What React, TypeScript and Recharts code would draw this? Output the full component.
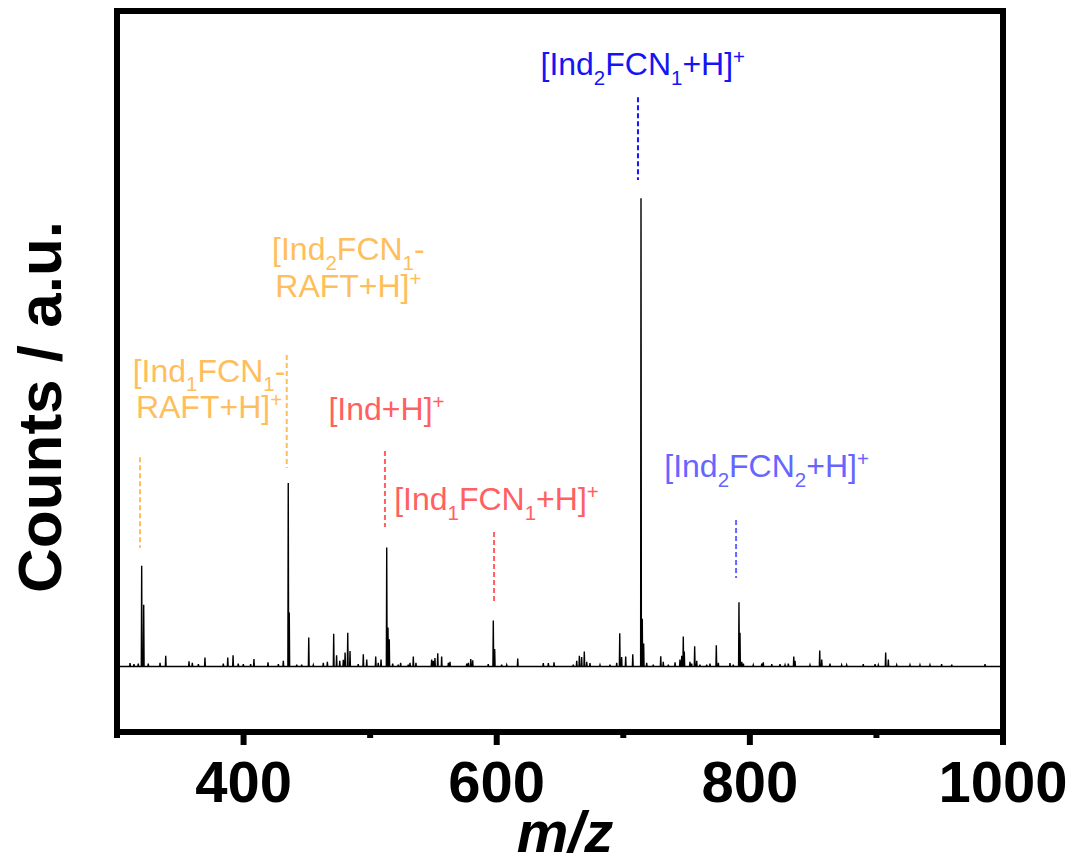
import React from "react";
import {
  LineChart,
  Line,
  XAxis,
  YAxis,
  ReferenceArea,
  ReferenceLine,
  ReferenceDot,
} from "recharts";

const FONT = "'Liberation Sans', Arial, Helvetica, sans-serif";

// tall peaks (m/z, counts relative to the base peak)
const peakMz = [
  319.5, 321.1, 338.5, 369.5, 387.5, 391.7, 408.2, 435.3, 436.1, 451.5, 471.2,
  482.3, 494.6, 497.3, 504.4, 513.1, 514.1, 515.1, 534.1, 553.4, 556.5, 579.5,
  597.3, 598.4, 616.6, 665.3, 669.2, 697.2, 701.9, 707.5, 714.0, 715.0, 716.1,
  729.6, 747.4, 748.2, 756.4, 773.5, 791.4, 792.2, 810.6, 834.7, 855.2, 907.3,
  959.5,
];
const peakCounts = [
  21.5, 13.2, 2.3, 1.9, 1.9, 2.4, 1.6, 39.2, 11.5, 6.2, 7.0,
  7.2, 2.6, 1.5, 2.1, 25.4, 8.3, 5.8, 2.1, 2.8, 2.1, 1.6,
  9.8, 3.7, 1.7, 2.3, 3.2, 7.1, 2.1, 2.6, 100, 10.2, 4.9,
  2.2, 6.4, 3.2, 4.3, 4.5, 13.7, 7.2, 0.9, 2.1, 3.4, 3.0,
  0.4,
];

// small peaks along the baseline
const minorMz = [
  310.3, 313.4, 316.8, 324.7, 334.0, 356.9, 359.5, 364.3, 384.0, 395.8, 399.8,
  405.6, 419.3, 427.5, 431.4, 442.0, 445.9, 455.1, 463.0, 466.2, 473.5, 476.0,
  478.8, 480.2, 484.1, 490.6, 506.4, 508.6, 517.8, 522.2, 524.1, 530.1, 531.5,
  536.2, 548.6, 549.9, 551.2, 561.8, 563.1, 576.3, 577.6, 581.0, 593.3, 603.9,
  607.9, 636.8, 640.8, 645.3, 660.5, 663.2, 667.1, 671.1, 673.7, 681.6, 689.5,
  694.8, 698.7, 718.5, 723.7, 731.6, 735.6, 740.9, 744.8, 746.2, 752.7, 754.0,
  758.0, 760.6, 765.9, 768.5, 775.1, 784.3, 786.9, 793.6, 794.9, 802.7, 809.4,
  817.3, 823.8, 827.8, 830.4, 835.7, 847.5, 856.8, 863.3, 872.5, 876.5, 889.6,
  898.9, 901.5, 909.4, 916.0, 926.5, 934.4, 942.3, 951.5, 985.8,
];
const minorCounts = [
  0.7, 0.5, 0.6, 0.6, 0.8, 1.1, 0.8, 0.5, 0.6, 0.6, 0.5,
  0.5, 0.9, 0.5, 1.2, 0.4, 0.4, 0.3, 0.8, 1.0, 2.4, 1.2,
  1.4, 3.0, 3.3, 0.5, 0.8, 1.5, 0.6, 0.4, 0.8, 0.4, 0.8,
  0.8, 1.5, 1.2, 1.8, 0.8, 1.0, 0.6, 0.8, 1.3, 0.5, 0.4,
  0.3, 0.7, 0.7, 0.9, 0.4, 1.2, 2.0, 1.0, 0.7, 0.3, 0.4,
  0.8, 2.0, 0.8, 0.4, 1.0, 0.4, 0.9, 1.5, 2.3, 1.0, 0.6,
  1.2, 0.4, 0.4, 0.6, 0.8, 0.7, 0.4, 1.0, 0.6, 0.3, 0.6,
  0.5, 0.5, 0.3, 0.6, 1.2, 0.3, 1.5, 0.6, 0.3, 0.3, 0.5,
  0.5, 0.3, 1.5, 0.3, 0.3, 0.3, 0.3, 0.5, 0.5,
];

const mzTicks = [300, 400, 500, 600, 700, 800, 900, 1000];

const ORANGE = "#FFBE5C";
const RED = "#FF6060";
const BLUE = "#1414F5";
const LIGHT_BLUE = "#6666FF";

type Part = [string, "n" | "sub" | "sup"];

// peak assignments, one entry per text line
const labelText: Part[][] = [
  [["[Ind", "n"], ["2", "sub"], ["FCN", "n"], ["1", "sub"], ["+H]", "n"], ["+", "sup"]],
  [["[Ind", "n"], ["2", "sub"], ["FCN", "n"], ["1", "sub"], ["-", "n"]],
  [["RAFT+H]", "n"], ["+", "sup"]],
  [["[Ind", "n"], ["1", "sub"], ["FCN", "n"], ["1", "sub"], ["-", "n"]],
  [["RAFT+H]", "n"], ["+", "sup"]],
  [["[Ind+H]", "n"], ["+", "sup"]],
  [["[Ind", "n"], ["1", "sub"], ["FCN", "n"], ["1", "sub"], ["+H]", "n"], ["+", "sup"]],
  [["[Ind", "n"], ["2", "sub"], ["FCN", "n"], ["2", "sub"], ["+H]", "n"], ["+", "sup"]],
];
const labelMz = [715.4, 482.8, 482.8, 372.7, 372.7, 512.9, 599.8, 813.2];
const labelY = [126.3, 86.8, 79.0, 60.8, 53.1, 52.6, 33.4, 40.4];
const labelColor = [BLUE, ORANGE, ORANGE, ORANGE, ORANGE, RED, RED, LIGHT_BLUE];

// dashed markers above the assigned peaks
const markerMz = [711.6, 434.1, 318.2, 511.7, 597.9, 789.1];
const markerTop = [121.6, 66.5, 44.7, 46.0, 28.7, 31.3];
const markerBottom = [103.9, 42.4, 25.3, 29.8, 13.8, 18.9];
const markerColor = [BLUE, ORANGE, ORANGE, RED, RED, LIGHT_BLUE];

const sticks = peakMz
  .map((mz, i) => ({ mz, c: peakCounts[i] }))
  .concat(minorMz.map((mz, i) => ({ mz, c: minorCounts[i] })))
  .sort((a, b) => a.mz - b.mz);

const spectrum: { mz: number; c: number }[] = [{ mz: 302, c: 0 }];
sticks.forEach((s) => {
  spectrum.push({ mz: s.mz - 0.3, c: 0 }, { mz: s.mz, c: s.c }, { mz: s.mz + 0.3, c: 0 });
});
spectrum.push({ mz: 998, c: 0 });

function RichText({ x, y, parts, color }: { x: number; y: number; parts: Part[]; color: string }) {
  const size = 32;
  let shift = 0;
  return (
    <text x={x} y={y} textAnchor="middle" fill={color} fontSize={size} fontFamily={FONT}>
      {parts.map(([t, k], i) => {
        const target = k === "sub" ? 0.3 * size : k === "sup" ? -0.34 * size : 0;
        const dy = target - shift;
        shift = target;
        return (
          <tspan key={i} dy={dy} fontSize={k === "n" ? size : size * 0.64}>
            {t}
          </tspan>
        );
      })}
    </text>
  );
}

function MzTick(props: any) {
  const { x, y, payload } = props;
  const major = payload.value % 200 === 0;
  return (
    <g>
      <line x1={x} x2={x} y1={y} y2={y + (major ? 13 : 6)} stroke="#000" strokeWidth={6} />
      {major && (
        <text x={x} y={y + 70} textAnchor="middle" fontSize={58} fontWeight="bold" fontFamily={FONT} fill="#000">
          {payload.value}
        </text>
      )}
    </g>
  );
}

function MzLabel(props: any) {
  const { x, y, width } = props.viewBox;
  return (
    <text x={x + width / 2 + 5} y={y + 120} textAnchor="middle" fontSize={58} fontWeight="bold" fontStyle="italic" fontFamily={FONT} fill="#000">
      m/z
    </text>
  );
}

function CountsLabel(props: any) {
  const { x, y } = props.viewBox;
  const cx = x + 53;
  const cy = y + 396;
  return (
    <text x={cx} y={cy} transform={`rotate(-90, ${cx}, ${cy})`} textAnchor="middle" fontSize={62} fontWeight="bold" fontFamily={FONT} fill="#000">
      Counts / a.u.
    </text>
  );
}

export default function App() {
  return (
    <div style={{ width: 1067, height: 846 }}>
      <LineChart width={1067} height={846} data={spectrum} margin={{ top: 3, right: 72, bottom: 0, left: 0 }}>
        <XAxis
          dataKey="mz"
          type="number"
          domain={[300, 1000]}
          ticks={mzTicks}
          interval={0}
          allowDataOverflow
          height={122}
          axisLine={false}
          tickLine={false}
          tickSize={0}
          tickMargin={0}
          tick={<MzTick />}
          label={MzLabel}
        />
        <YAxis
          type="number"
          domain={[-14, 140]}
          allowDataOverflow
          width={109}
          tick={false}
          tickLine={false}
          axisLine={false}
          label={CountsLabel}
        />
        <Line
          type="linear"
          dataKey="c"
          stroke="#000"
          strokeWidth={1.4}
          dot={false}
          activeDot={false}
          isAnimationActive={false}
        />
        {markerMz.map((m, i) => (
          <ReferenceLine
            key={`m${i}`}
            segment={[
              { x: m, y: markerTop[i] },
              { x: m, y: markerBottom[i] },
            ]}
            stroke={markerColor[i]}
            strokeWidth={2}
            strokeDasharray="5 3"
          />
        ))}
        {labelText.map((parts, i) => (
          <ReferenceDot
            key={`l${i}`}
            x={labelMz[i]}
            y={labelY[i]}
            r={0}
            shape={(p: any) => <RichText x={p.cx} y={p.cy} parts={parts} color={labelColor[i]} />}
          />
        ))}
        <ReferenceArea x1={300} x2={1000} y1={-14} y2={140} fill="none" stroke="#000" strokeWidth={6} />
      </LineChart>
    </div>
  );
}
